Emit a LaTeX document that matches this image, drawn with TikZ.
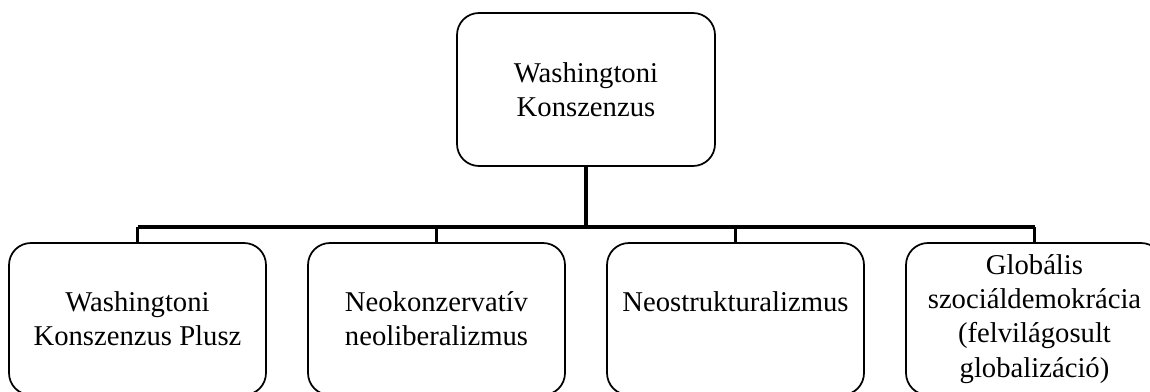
\documentclass[tikz,border=0pt]{standalone}
\usepackage{fontspec}
\setmainfont{Liberation Serif}
\usetikzlibrary{positioning}

\begin{document}
\begin{tikzpicture}[
  x=0.75pt, y=-0.75pt,
  node distance=224.25pt,
  topnode/.style={rectangle, rounded corners=16.5pt, draw, line width=1.3pt, minimum width=193.5pt, minimum height=114.75pt, align=center, font=\fontsize{21.5}{25.6}\selectfont},
  subnode/.style={rectangle, rounded corners=16.5pt, draw, line width=1.3pt, minimum width=192.75pt, minimum height=114pt, align=center, font=\fontsize{21.5}{25.6}\selectfont},
  trunk/.style={line width=2.4pt},
  branch/.style={line width=1.6pt}
]
\useasboundingbox (0,0) rectangle (1150,392);
\clip (0,0) rectangle (1150,392);

% Top node
\node[topnode] (wk) at (586,89.5) {Washingtoni\\Konszenzus};

% Sub nodes
\node[subnode] (wkp) at (137.5,319) {Washingtoni\\Konszenzus Plusz};
\node[subnode, right of=wkp] (neokon) {Neokonzervatív\\neoliberalizmus};
\node[subnode, right of=neokon] (neostr) {Neostrukturalizmus\\[0pt]\mbox{}};
\node[subnode, right of=neostr] (glob) {Globális\\szociáldemokrácia\\(felvilágosult\\globalizáció)};

% Connectors
\coordinate (hub) at (wk.south |- 0,227);
\draw[trunk] (wk.south) -- (hub);
\draw[trunk] (wkp.north |- hub) -- (glob.north |- hub);
\foreach \n in {wkp, neokon, neostr, glob}
  \draw[branch] (\n.north |- hub) -- (\n.north);

\end{tikzpicture}
\end{document}
